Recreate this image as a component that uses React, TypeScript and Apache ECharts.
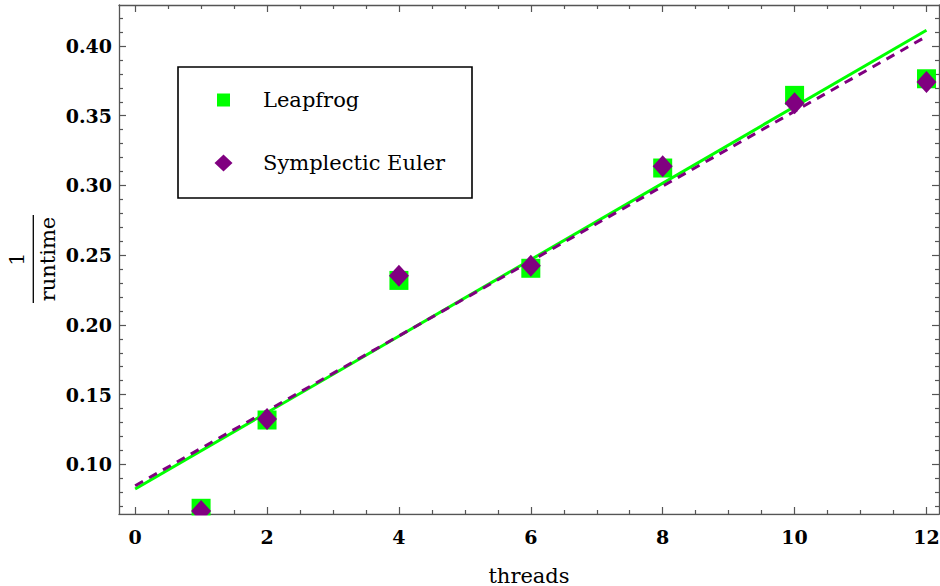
import React, { useEffect, useRef } from "react";
import * as echarts from "echarts";

// ---- data ----
const THREADS = [1, 2, 4, 6, 8, 10, 12];
const LEAPFROG = [0.0685, 0.1318, 0.2319, 0.2406, 0.3125, 0.3646, 0.3765];
const SYMPLECTIC = [0.0665, 0.1325, 0.2352, 0.2424, 0.3138, 0.359, 0.3741];
const FIT_X = [0, 12];
const LEAPFROG_FIT = [0.0823, 0.4113];
const SYMPLECTIC_FIT = [0.0847, 0.4069];

// ---- ticks ----
const X_TICKS = [0, 2, 4, 6, 8, 10, 12];
const X_MINOR = [0.5, 1, 1.5, 2.5, 3, 3.5, 4.5, 5, 5.5, 6.5, 7, 7.5, 8.5, 9, 9.5, 10.5, 11, 11.5];
const Y_TICKS = [0.1, 0.15, 0.2, 0.25, 0.3, 0.35, 0.4];
const Y_MINOR = [
  0.07, 0.08, 0.09, 0.11, 0.12, 0.13, 0.14, 0.16, 0.17, 0.18, 0.19, 0.21, 0.22, 0.23, 0.24,
  0.26, 0.27, 0.28, 0.29, 0.31, 0.32, 0.33, 0.34, 0.36, 0.37, 0.38, 0.39, 0.41, 0.42,
];
const X_MIN = -0.245;
const X_MAX = 12.19;
const Y_MIN = 0.0644;
const Y_MAX = 0.4294;

const SERIF = "'DejaVu Serif', serif";
const AXIS_COLOR = "#555";
const GREEN = "#00ff00";
const PURPLE = "#800080";

function xAxisDef(position: "bottom" | "top", major: boolean, labels: boolean) {
  return {
    type: "value",
    position,
    min: X_MIN,
    max: X_MAX,
    axisLine: { show: major, onZero: false, lineStyle: { color: AXIS_COLOR, width: 1.3 } },
    axisTick: {
      show: true,
      inside: true,
      length: major ? 7 : 4,
      customValues: major ? X_TICKS : X_MINOR,
      lineStyle: { color: AXIS_COLOR, width: 1.2 },
    },
    axisLabel: labels
      ? {
          show: true,
          customValues: X_TICKS,
          margin: 13,
          fontFamily: SERIF,
          fontWeight: "bold",
          fontSize: 19,
          color: "#000",
          formatter: (v: number) => String(v),
        }
      : { show: false },
    splitLine: { show: false },
    minorTick: { show: false },
    ...(labels
      ? {
          name: "threads",
          nameLocation: "middle",
          nameGap: 53,
          nameTextStyle: {
            fontFamily: SERIF,
            fontSize: 21,
            lineHeight: 17,
            color: "#000",
            fontWeight: "normal",
          },
        }
      : {}),
  };
}

function yAxisDef(position: "left" | "right", major: boolean, labels: boolean) {
  return {
    type: "value",
    position,
    min: Y_MIN,
    max: Y_MAX,
    axisLine: { show: major, onZero: false, lineStyle: { color: AXIS_COLOR, width: 1.3 } },
    axisTick: {
      show: true,
      inside: true,
      length: major ? 7 : 4,
      customValues: major ? Y_TICKS : Y_MINOR,
      lineStyle: { color: AXIS_COLOR, width: 1.2 },
    },
    axisLabel: labels
      ? {
          show: true,
          customValues: Y_TICKS,
          margin: 7,
          fontFamily: SERIF,
          fontWeight: "bold",
          fontSize: 19,
          color: "#000",
          formatter: (v: number) => v.toFixed(2),
        }
      : { show: false },
    splitLine: { show: false },
    minorTick: { show: false },
  };
}

export default function App() {
  const ref = useRef<HTMLDivElement>(null);

  useEffect(() => {
    if (!ref.current) return;
    const chart = echarts.init(ref.current, undefined, { renderer: "svg" });
    const labelFont = { fontFamily: SERIF, fontSize: 21, fill: "#000", align: "center", verticalAlign: "middle" };

    chart.setOption({
      animation: false,
      backgroundColor: "#fff",
      grid: { left: 119, top: 5, right: 1, bottom: 72, containLabel: false, outerBoundsMode: "none" },
      xAxis: [
        xAxisDef("bottom", true, true),
        xAxisDef("bottom", false, false),
        xAxisDef("top", true, false),
        xAxisDef("top", false, false),
      ],
      yAxis: [
        yAxisDef("left", true, true),
        yAxisDef("left", false, false),
        yAxisDef("right", true, false),
        yAxisDef("right", false, false),
      ],
      legend: [
        {
          data: [{ name: "Leapfrog", icon: "rect" }],
          left: 217,
          top: 88,
          padding: 0,
          itemWidth: 13,
          itemHeight: 13,
          selectedMode: false,
          textStyle: { fontFamily: SERIF, fontSize: 21, color: "#000", lineHeight: 24, padding: [0, 0, 0, 28] },
        },
        {
          data: [{ name: "Symplectic Euler", icon: "diamond" }],
          left: 214.5,
          top: 151,
          padding: 0,
          itemWidth: 18,
          itemHeight: 17,
          selectedMode: false,
          textStyle: { fontFamily: SERIF, fontSize: 21, color: "#000", lineHeight: 24, padding: [0, 0, 0, 25.5] },
        },
      ],
      graphic: [
        {
          type: "rect",
          silent: true,
          z: 100,
          shape: { x: 119, y: 515.5, width: 821, height: 10 },
          style: { fill: "#fff" },
        },
        {
          type: "rect",
          silent: true,
          z: 100,
          shape: { x: 178, y: 67, width: 294, height: 131 },
          style: { fill: "none", stroke: "#000", lineWidth: 1.6 },
        },
        {
          type: "group",
          x: 33.3,
          y: 259,
          rotation: Math.PI / 2,
          silent: true,
          children: [
            { type: "text", x: 0, y: -16, style: { text: "1", ...labelFont } },
            {
              type: "line",
              shape: { x1: -44, y1: 0, x2: 44, y2: 0 },
              style: { stroke: "#000", lineWidth: 1.3 },
            },
            { type: "text", x: 0, y: 15, style: { text: "runtime", ...labelFont } },
          ],
        },
      ],
      series: [
        {
          name: "Leapfrog fit",
          type: "line",
          data: FIT_X.map((x, i) => [x, LEAPFROG_FIT[i]]),
          showSymbol: false,
          lineStyle: { color: GREEN, width: 3 },
          itemStyle: { color: GREEN },
          z: 2,
        },
        {
          name: "Symplectic Euler fit",
          type: "line",
          data: FIT_X.map((x, i) => [x, SYMPLECTIC_FIT[i]]),
          showSymbol: false,
          lineStyle: { color: PURPLE, width: 3, type: [9, 7] },
          itemStyle: { color: PURPLE },
          z: 3,
        },
        {
          name: "Leapfrog",
          type: "scatter",
          data: THREADS.map((x, i) => [x, LEAPFROG[i]]),
          symbol: "rect",
          symbolSize: 19,
          itemStyle: { color: GREEN, opacity: 1 },
          z: 4,
        },
        {
          name: "Symplectic Euler",
          type: "scatter",
          data: THREADS.map((x, i) => [x, SYMPLECTIC[i]]),
          symbol: "diamond",
          symbolSize: [20, 22],
          itemStyle: { color: PURPLE, opacity: 1 },
          z: 5,
        },
      ],
    });

    return () => chart.dispose();
  }, []);

  return (
    <div
      ref={ref}
      style={{ position: "absolute", left: 0, top: 0, width: 940, height: 586, background: "#fff" }}
    />
  );
}
